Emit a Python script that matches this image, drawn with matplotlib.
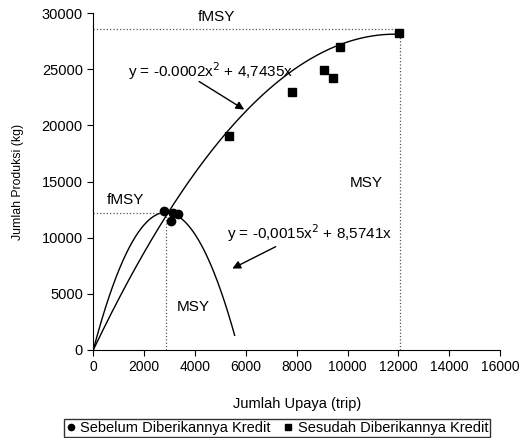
import numpy as np
import matplotlib.pyplot as plt

plt.rcParams['font.family'] = ['Liberation Sans', 'DejaVu Sans']

# data
sebelum_x = [2780, 3145, 3340, 3050]
sebelum_y = [12350, 12230, 12140, 11460]
sesudah_x = [5330, 7800, 9070, 9430, 9700, 12020]
sesudah_y = [19100, 22950, 24960, 24250, 26990, 28210]

# fitted curves (coefficients shown on the chart)
coef_sesudah = [-0.0002, 4.7435]
coef_sebelum = [-0.0015, 8.5741]
x_end_sesudah = 11900
x_end_sebelum = 5560

# reference lines
fmsy_sesudah, msy_sesudah = 12050, 28550
fmsy_sebelum, msy_sebelum = 2845, 12230

fig = plt.figure(figsize=(5.27, 4.38), dpi=100)
ax = fig.add_axes([0.177, 0.201, 0.772, 0.769])

xs = np.linspace(0, x_end_sesudah, 200)
ax.plot(xs, coef_sesudah[0] * xs**2 + coef_sesudah[1] * xs, color='black', lw=1)
xb = np.linspace(0, x_end_sebelum, 200)
ax.plot(xb, coef_sebelum[0] * xb**2 + coef_sebelum[1] * xb, color='black', lw=1)

# dotted guides
ax.plot([0, fmsy_sesudah], [msy_sesudah, msy_sesudah], ls=':', color='#555555', lw=0.9)
ax.plot([fmsy_sesudah, fmsy_sesudah], [0, msy_sesudah], ls=':', color='#555555', lw=0.9)
ax.plot([0, fmsy_sebelum], [msy_sebelum, msy_sebelum], ls=':', color='#555555', lw=0.9)
ax.plot([fmsy_sebelum, fmsy_sebelum], [0, msy_sebelum], ls=':', color='#555555', lw=0.9)

ax.plot(sebelum_x, sebelum_y, 'o', color='black', ms=6, label='Sebelum Diberikannya Kredit', zorder=5)
ax.plot(sesudah_x, sesudah_y, 's', color='black', ms=6, label='Sesudah Diberikannya Kredit', zorder=5)

ax.text(4860, 29700, 'fMSY', ha='center', va='center', fontsize=11)
ax.text(10750, 14900, 'MSY', ha='center', va='center', fontsize=11)
ax.text(1250, 13400, 'fMSY', ha='center', va='center', fontsize=11)
ax.text(3930, 3800, 'MSY', ha='center', va='center', fontsize=11)

ax.text(4600, 24800, 'y = -0.0002x$^2$ + 4,7435x', ha='center', va='center', fontsize=11)
ax.annotate('', xy=(6030, 21280), xytext=(4070, 24040),
            arrowprops=dict(arrowstyle='-|>', color='black', lw=1, mutation_scale=12))
ax.text(8500, 10360, 'y = -0,0015x$^2$ + 8,5741x', ha='center', va='center', fontsize=11)
ax.annotate('', xy=(5370, 7140), xytext=(7270, 9310),
            arrowprops=dict(arrowstyle='-|>', color='black', lw=1, mutation_scale=12))

ax.set_xlim(0, 16000)
ax.set_ylim(0, 30000)
ax.set_xticks(np.arange(0, 16001, 2000))
ax.set_yticks(np.arange(0, 30001, 5000))
ax.spines['top'].set_visible(False)
ax.spines['right'].set_visible(False)
ax.tick_params(direction='out', length=4)
ax.tick_params(axis='x', labelsize=10)
ax.tick_params(axis='y', labelsize=10.5)
ax.set_xlabel('Jumlah Upaya (trip)', fontsize=10.5, labelpad=16)
ax.set_ylabel('Jumlah Produksi (kg)', fontsize=8.8, labelpad=13)

fig.legend(loc='center', bbox_to_anchor=(0.526, 0.023), ncol=2, fontsize=10.5,
           frameon=True, fancybox=False, edgecolor='black', handlelength=0.6,
           handletextpad=0.35, columnspacing=0.9, borderpad=0.15, markerscale=0.75)

plt.savefig('out.png', dpi=100)
